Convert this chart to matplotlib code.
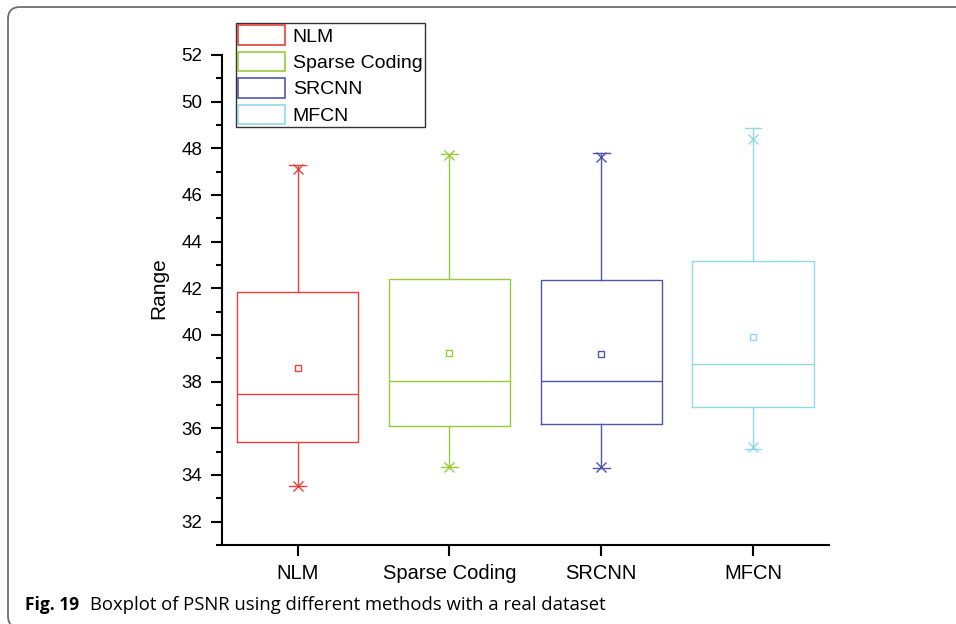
import numpy as np
import matplotlib
matplotlib.use("Agg")
import matplotlib.pyplot as plt
from matplotlib.patches import Patch, FancyBboxPatch
from matplotlib.transforms import IdentityTransform
from matplotlib.ticker import MultipleLocator

plt.rcParams['font.family'] = ['Liberation Sans', 'DejaVu Sans']

# PSNR box statistics per method
methods = ['NLM', 'Sparse Coding', 'SRCNN', 'MFCN']
colors = ['#e8403a', '#96cc3c', '#4f55ad', '#92d8e6']
q1 = [35.41, 36.11, 36.20, 36.91]
median = [37.48, 38.04, 38.04, 38.77]
q3 = [41.86, 42.41, 42.36, 43.18]
mean = [38.60, 39.24, 39.20, 39.92]
whisker_low = [33.54, 34.36, 34.31, 35.11]
whisker_high = [47.29, 47.76, 47.79, 48.85]
pct_low = [33.54, 34.36, 34.36, 35.18]
pct_high = [47.12, 47.72, 47.63, 48.40]

fig = plt.figure(figsize=(9.56, 6.24), dpi=100)
ax = fig.add_axes([0.2319, 0.1266, 0.6353, 0.7853])

pos = np.arange(1, len(methods) + 1)
for i, c in enumerate(colors):
    st = dict(med=median[i], q1=q1[i], q3=q3[i], whislo=whisker_low[i],
              whishi=whisker_high[i], mean=mean[i], fliers=[], label=methods[i])
    lp = dict(color=c, linewidth=1.0)
    ax.bxp([st], positions=[pos[i]], widths=0.8, capwidths=0.11,
           showmeans=True, showfliers=False,
           boxprops=lp, whiskerprops=lp, capprops=lp, medianprops=lp,
           meanprops=dict(marker='s', markersize=4.5, markerfacecolor='none',
                          markeredgecolor=c, markeredgewidth=1.0))
    ax.plot([pos[i], pos[i]], [pct_low[i], pct_high[i]], linestyle='none',
            marker='x', markersize=7, color=c, markeredgewidth=1.0)

ax.set_xlim(0.5, 4.5)
ax.set_ylim(31, 52)
ax.set_xticks(pos)
ax.set_xticklabels(methods, fontsize=14.5)
ax.yaxis.set_major_locator(MultipleLocator(2))
ax.yaxis.set_minor_locator(MultipleLocator(1))
ax.set_yticks(np.arange(32, 53, 2))
ax.tick_params(axis='y', labelsize=13.5, width=1.5, length=8, pad=6)
ax.tick_params(axis='y', which='minor', width=1.5, length=4)
ax.tick_params(axis='x', width=1.5, length=8, pad=6)
ax.set_ylabel('Range', fontsize=15)
ax.yaxis.set_label_coords(-0.088, 0.524)
for s in ['top', 'right']:
    ax.spines[s].set_visible(False)
for s in ['left', 'bottom']:
    ax.spines[s].set_linewidth(1.5)

handles = [Patch(facecolor='none', edgecolor=c, linewidth=1.2) for c in colors]
leg = fig.legend(handles, methods, loc='upper left',
                 bbox_to_anchor=(236 / 956, 1 - 23 / 624), fontsize=14,
                 frameon=True, fancybox=False, edgecolor='black',
                 handlelength=2.4, handleheight=1.15, handletextpad=0.4,
                 labelspacing=0.32, borderpad=0.12, borderaxespad=0)
leg.get_frame().set_linewidth(1.0)

# caption and journal frame
fig.text(25 / 956, 1 - 605 / 624, 'Fig. 19', fontsize=12.5, fontweight='bold',
         family=['Open Sans', 'Liberation Sans'], va='center')
fig.text(90 / 956, 1 - 605 / 624,
         'Boxplot of PSNR using different methods with a real dataset',
         fontsize=13.3, family=['Open Sans', 'Liberation Sans'], va='center')
frame = FancyBboxPatch((8, -4), 980, 621, boxstyle='round,pad=0,rounding_size=12',
                       transform=IdentityTransform(), facecolor='none',
                       edgecolor='#6e6e6e', linewidth=1.3, clip_on=False)
fig.patches.append(frame)

fig.savefig('out.png', dpi=100)
